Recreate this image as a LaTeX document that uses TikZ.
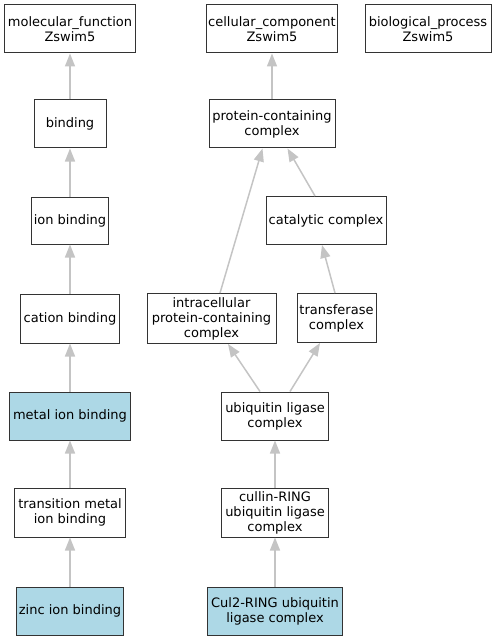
\documentclass[tikz,border=0pt]{standalone}
\usepackage{fontspec}
\setmainfont{DejaVu Sans}
\usetikzlibrary{arrows.meta}
\definecolor{boxline}{HTML}{333333}
\definecolor{edgegray}{HTML}{C4C4C4}
\definecolor{hilite}{HTML}{ADD8E6}
\tikzset{
  term/.style={draw=boxline, line width=1bp, fill=white, inner sep=0pt, align=center,
    font=\fontsize{13bp}{15bp}\selectfont},
  hit/.style={term, fill=hilite},
  isa/.style={draw=edgegray, line width=1.5bp, -{Triangle[length=13bp,width=10bp]}}
}
\begin{document}
\begin{tikzpicture}[x=1bp,y=-1bp]
\useasboundingbox (0,0) rectangle (496,640);
% left column
\node[term, minimum width=130bp, minimum height=48bp] (mf) at (70,29) {molecular\_function\\Zswim5};
\node[term, minimum width=72bp, minimum height=48bp] (bind) at (70,124) {binding};
\node[term, minimum width=77bp, minimum height=47bp] (ion) at (70,220.5) {ion binding};
\node[term, minimum width=99bp, minimum height=49bp] (cation) at (70,318.5) {cation binding};
\node[hit, minimum width=120bp, minimum height=48bp] (metal) at (70,416) {metal ion binding};
\node[term, minimum width=110bp, minimum height=49bp] (trmetal) at (70,512.5) {transition metal\\ion binding};
\node[hit, minimum width=107bp, minimum height=48bp] (zinc) at (70,611) {zinc ion binding};
% right part
\node[term, minimum width=131bp, minimum height=48bp] (cc) at (272,29) {cellular\_component\\Zswim5};
\node[term, minimum width=126bp, minimum height=48bp] (bp) at (428,29) {biological\_process\\Zswim5};
\node[term, minimum width=126bp, minimum height=48bp] (pcc) at (272,124) {protein-containing\\complex};
\node[term, minimum width=120bp, minimum height=48bp] (cat) at (326,220.5) {catalytic complex};
\node[term, minimum width=129bp, minimum height=50bp] (intra) at (211.5,318.5) {intracellular\\protein-containing\\complex};
\node[term, minimum width=79bp, minimum height=49bp] (trans) at (336.5,318) {transferase\\complex};
\node[term, minimum width=107bp, minimum height=48bp] (ubiq) at (275,416) {ubiquitin ligase\\complex};
\node[term, minimum width=107bp, minimum height=49bp] (cullin) at (275,512.5) {cullin-RING\\ubiquitin ligase\\complex};
\node[hit, minimum width=135bp, minimum height=48bp] (cul2) at (275,611) {Cul2-RING ubiquitin\\ligase complex};
% edges
\draw[isa] (bind.north) -- (mf.south);
\draw[isa] (ion.north) -- (bind.south);
\draw[isa] (cation.north) -- (ion.south);
\draw[isa] (metal.north) -- (cation.south);
\draw[isa] (trmetal.north) -- (metal.south);
\draw[isa] (zinc.north) -- (trmetal.south);
\draw[isa] (pcc.north) -- (pcc.north |- cc.south);
\draw[isa] ([xshift=8.5bp]intra.north) -- ([xshift=-9.5bp]pcc.south);
\draw[isa] ([xshift=-11bp]cat.north) -- ([xshift=15.5bp]pcc.south);
\draw[isa] ([xshift=-1.5bp]trans.north) -- ([xshift=-4bp]cat.south);
\draw[isa] ([xshift=-15bp]ubiq.north) -- ([xshift=16.5bp]intra.south);
\draw[isa] ([xshift=15bp]ubiq.north) -- ([xshift=-16.5bp]trans.south);
\draw[isa] (cullin.north) -- (ubiq.south);
\draw[isa] (cul2.north) -- (cullin.south);
\end{tikzpicture}
\end{document}
